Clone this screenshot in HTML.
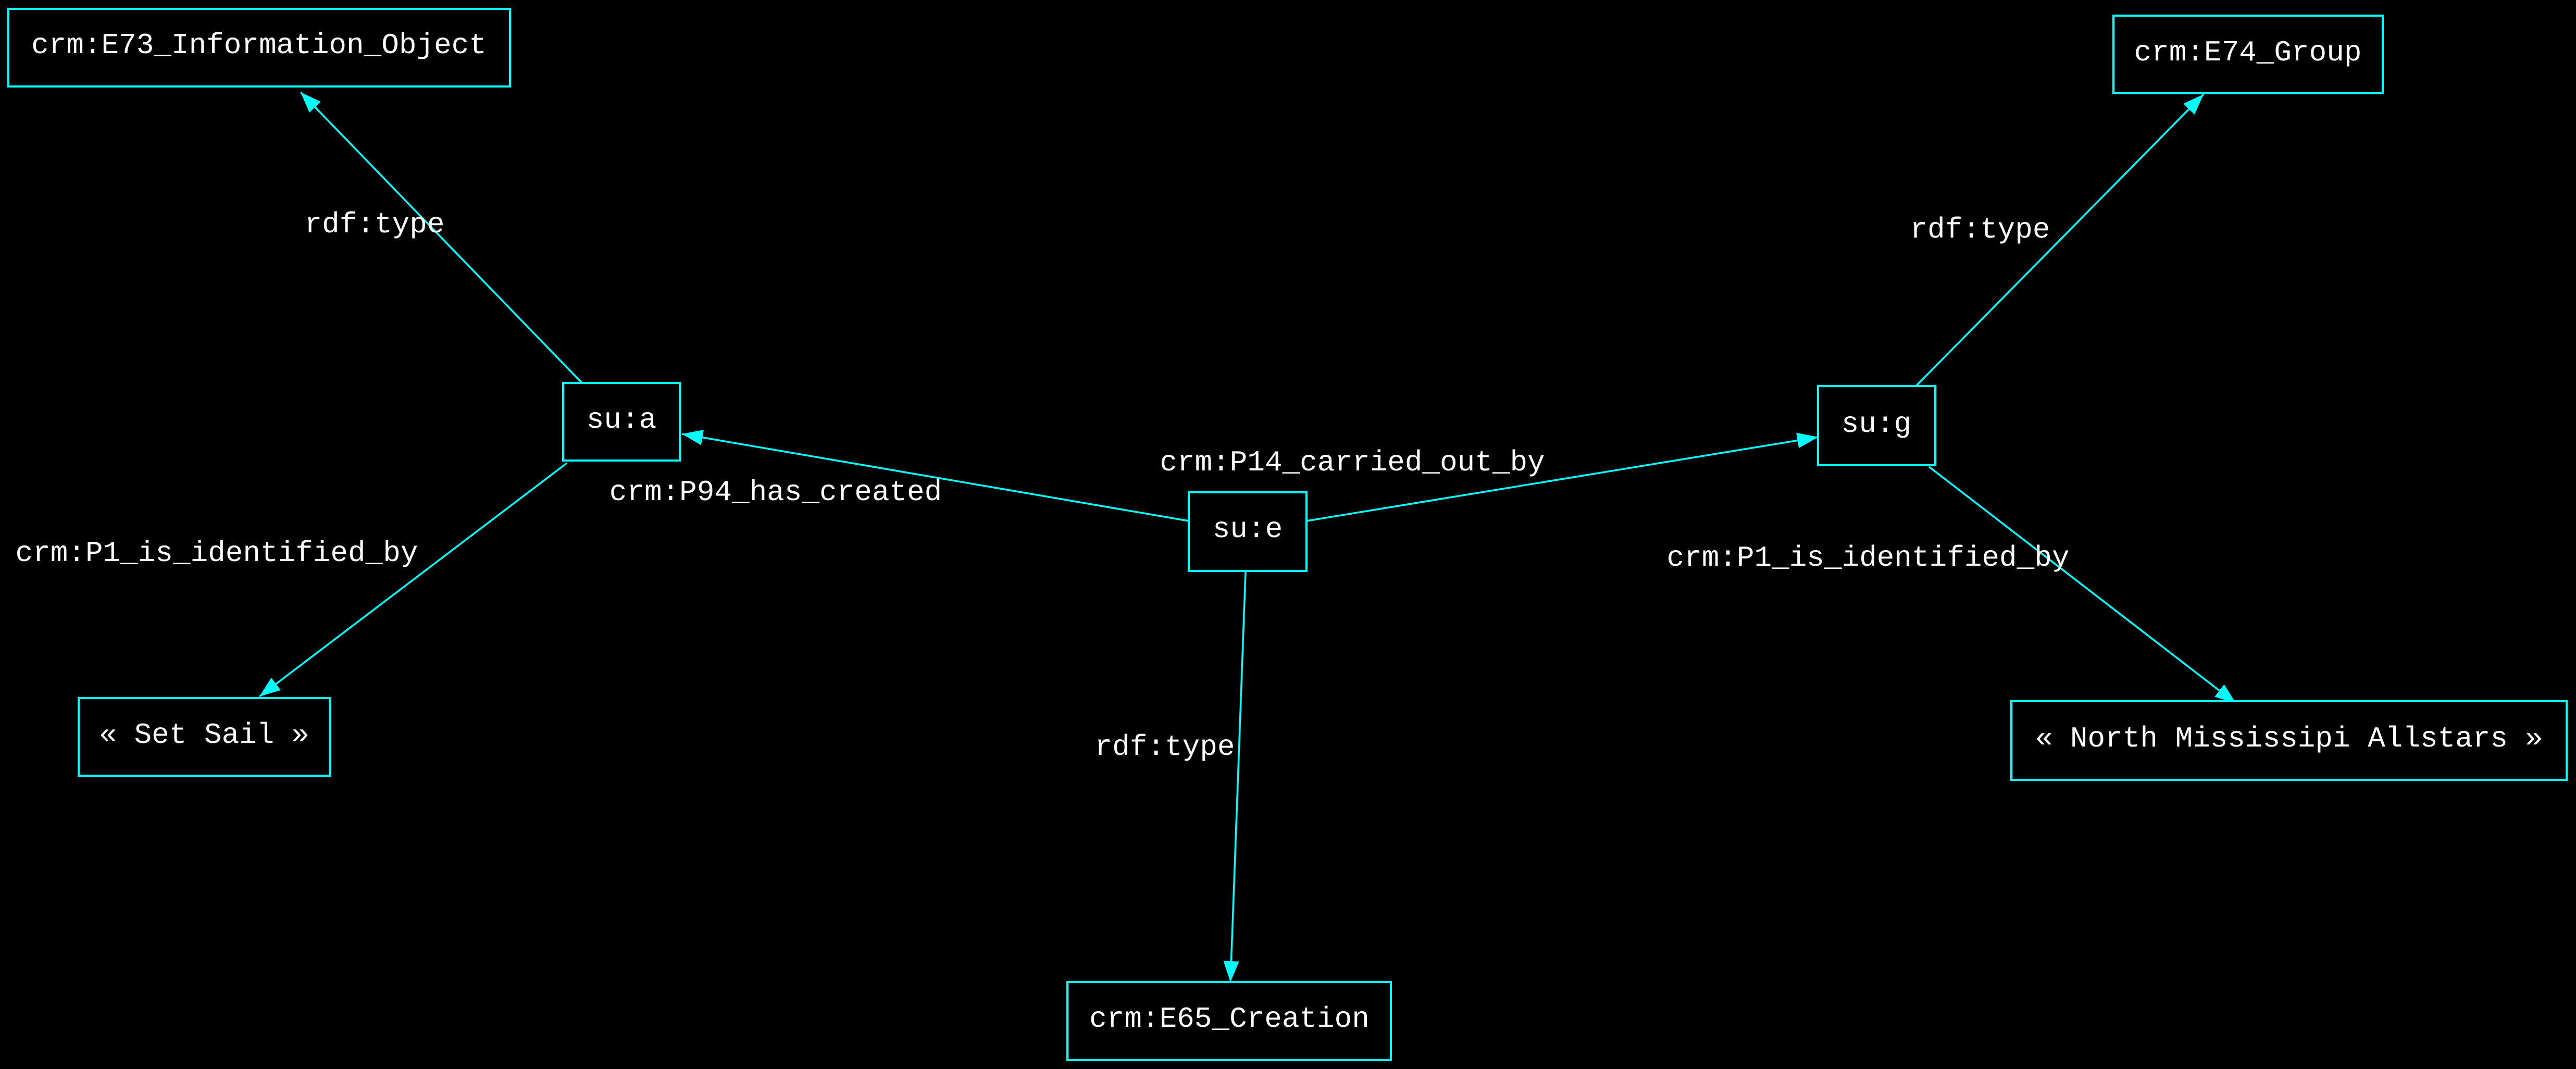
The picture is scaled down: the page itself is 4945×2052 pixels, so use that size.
<!DOCTYPE html>
<html><head><meta charset="utf-8"><style>
html,body{margin:0;padding:0;background:#000;}
svg{display:block;}
text{font-family:"Liberation Mono","DejaVu Sans Mono",monospace;font-size:56px;fill:#fff;}
.n{fill:#000;stroke:#00ffff;stroke-width:4;}
.e{stroke:#00ffff;stroke-width:3.5;fill:none;}
</style></head><body>
<svg width="4945" height="2052" viewBox="0 0 4945 2052" xmlns="http://www.w3.org/2000/svg">
<defs>
<marker id="b" viewBox="0 0 40 30" refX="40" refY="15" markerWidth="40" markerHeight="30" orient="auto" markerUnits="userSpaceOnUse"><path d="M0,0 L40,15 L0,30 z" fill="#00ffff"/></marker></defs>
<line class="e" x1="1117" y1="735" x2="577" y2="177" marker-end="url(#b)"/>
<line class="e" x1="1088" y1="889" x2="498" y2="1337" marker-end="url(#b)"/>
<line class="e" x1="2282" y1="1000" x2="1309" y2="833" marker-end="url(#b)"/>
<line class="e" x1="2508" y1="1000" x2="3490" y2="839" marker-end="url(#b)"/>
<line class="e" x1="2391" y1="1097" x2="2362" y2="1885" marker-end="url(#b)"/>
<line class="e" x1="3678" y1="741" x2="4230" y2="181" marker-end="url(#b)"/>
<line class="e" x1="3703" y1="896" x2="4292" y2="1350" marker-end="url(#b)"/>
<g transform="translate(0,-4)">
</g>
<rect class="n" x="16" y="17" width="963" height="149"/>
<rect class="n" x="1081" y="735" width="224" height="149"/>
<rect class="n" x="2282" y="945" width="226" height="151"/>
<rect class="n" x="2049" y="1885" width="621" height="150"/>
<rect class="n" x="151" y="1340" width="483" height="149"/>
<rect class="n" x="3490" y="741" width="225" height="152"/>
<rect class="n" x="4057" y="30" width="517" height="149"/>
<rect class="n" x="3861" y="1346" width="1066" height="151"/>
<g transform="translate(0,-4)">
<text x="497" y="106" text-anchor="middle">crm:E73_Information_Object</text>
<text x="1193" y="825" text-anchor="middle">su:a</text>
<text x="2395" y="1035" text-anchor="middle">su:e</text>
<text x="2360" y="1975" text-anchor="middle">crm:E65_Creation</text>
<text x="392" y="1430" text-anchor="middle">« Set Sail »</text>
<text x="3602" y="833" text-anchor="middle">su:g</text>
<text x="4315" y="120" text-anchor="middle">crm:E74_Group</text>
<text x="4394" y="1437" text-anchor="middle">« North Mississipi Allstars »</text>
<text x="719" y="450" text-anchor="middle">rdf:type</text>
<text x="416" y="1081" text-anchor="middle">crm:P1_is_identified_by</text>
<text x="1489" y="964" text-anchor="middle">crm:P94_has_created</text>
<text x="2596" y="907" text-anchor="middle">crm:P14_carried_out_by</text>
<text x="2236" y="1453" text-anchor="middle">rdf:type</text>
<text x="3801" y="460" text-anchor="middle">rdf:type</text>
<text x="3586" y="1090" text-anchor="middle">crm:P1_is_identified_by</text>
</g>
</svg>
</body></html>
